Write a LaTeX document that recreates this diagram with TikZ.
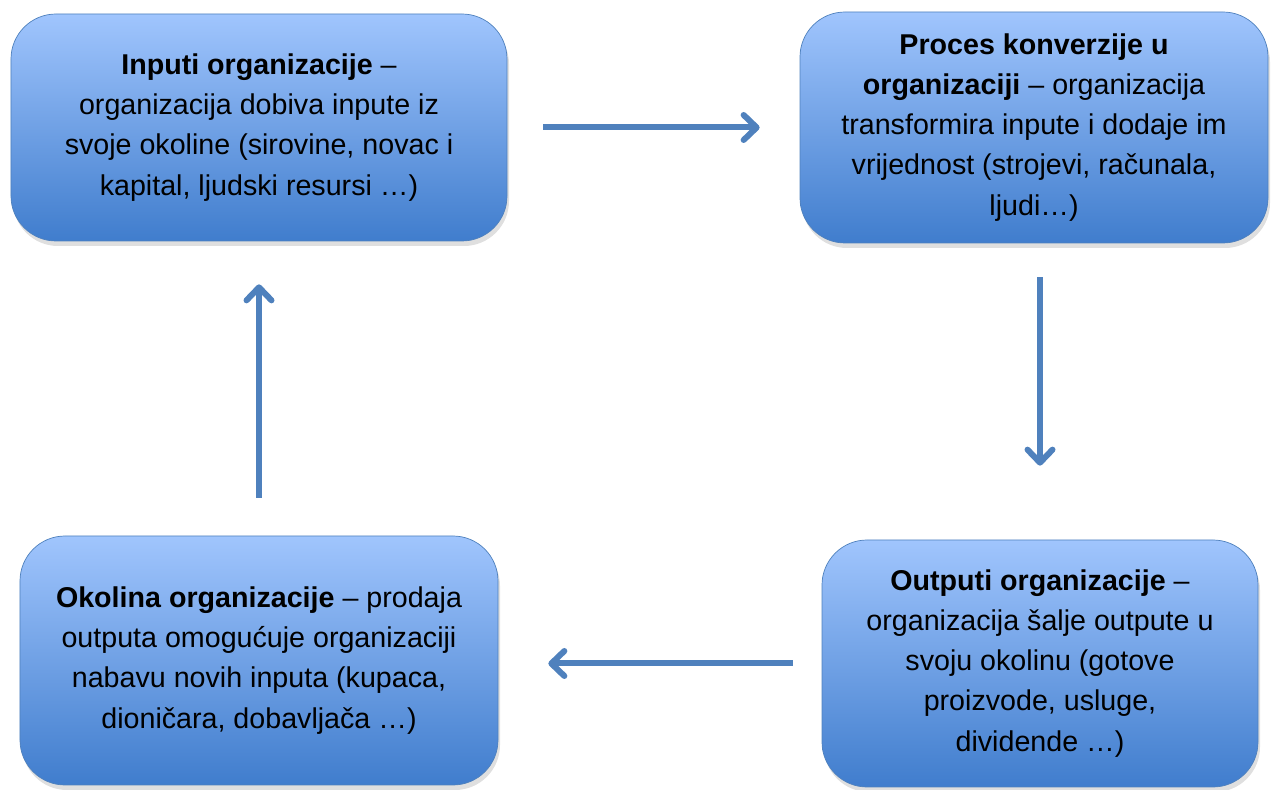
\documentclass[tikz,border=0pt]{standalone}
\usepackage{fontspec}
\setmainfont{Liberation Sans}
\usepackage {tikz}
\usetikzlibrary {positioning,arrows.meta,shadows}
\definecolor {boxtop}{RGB}{160,197,253}
\definecolor {boxbottom}{RGB}{64,125,205}
\definecolor {boxline}{RGB}{79,129,189}
\definecolor {flowblue}{RGB}{79,129,189}

\begin{document}
\begin{tikzpicture}[auto ,on grid ,
stage/.style ={top color =boxtop , bottom color = boxbottom ,
draw=boxline , thin, rounded corners=0.9cm, align=center, text=black,
font=\fontsize{16.3}{22.8}\selectfont, inner sep=0pt,
drop shadow={opacity=0.25, shadow xshift=0.04cm, shadow yshift=-0.1cm}},
flow/.style ={-{Straight Barb[length=0.26cm,width=0.5cm,round]}, line width=0.12cm,
flowblue}]
\useasboundingbox (0,0) rectangle (25.42,-15.8);
\node[stage, minimum width=9.92cm, minimum height=4.54cm] (inp) at (5.18,-2.55)
{\textbf{Inputi organizacije} --\\ organizacija dobiva inpute iz\\
svoje okoline (sirovine, novac i\\ kapital, ljudski resursi …)};
\node[stage, minimum width=9.36cm, minimum height=4.62cm] (proc) [right =15.5cm of inp]
{\textbf{Proces konverzije u}\\ \textbf{organizaciji} -- organizacija\\
transformira inpute i dodaje im\\ vrijednost (strojevi, računala,\\ ljudi…)};
\node[stage, minimum width=8.72cm, minimum height=4.94cm] (outp) [below right =10.72cm and 0.12cm of proc]
{\textbf{Outputi organizacije} --\\ organizacija šalje outpute u\\
svoju okolinu (gotove\\ proizvode, usluge,\\ dividende …)};
\node[stage, minimum width=9.56cm, minimum height=4.98cm] (env) [below =10.66cm of inp]
{\textbf{Okolina organizacije} -- prodaja\\ outputa omogućuje organizaciji\\
nabavu novih inputa (kupaca,\\ dioničara, dobavljača …)};

\draw[flow, shorten <=0.72cm, shorten >=0.8cm] (inp) -- (proc);
\draw[flow, shorten <=0.68cm, shorten >=1.48cm] (proc.south -| outp) -- (outp.north);
\draw[flow, shorten <=0.58cm, shorten >=1.0cm] (outp.west) -- (outp.west -| env.east);
\draw[flow, shorten <=0.76cm, shorten >=0.86cm] (env.north) -- (env.north |- inp.south);
\end{tikzpicture}
\end{document}
